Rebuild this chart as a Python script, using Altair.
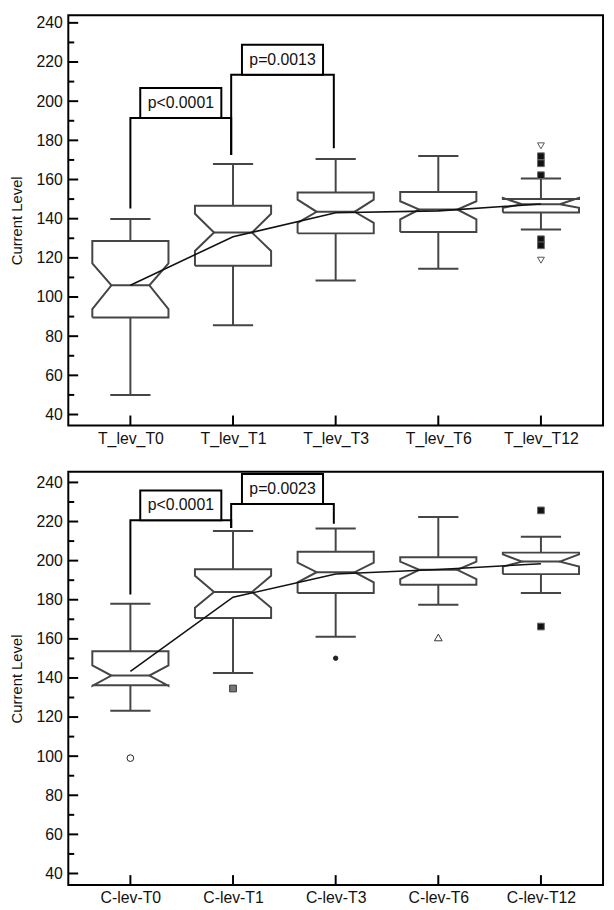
import altair as alt
import pandas as pd

FONT = "Liberation Sans"
BOX_COLOR = "#454545"

T_LABELS = ["T_lev_T0", "T_lev_T1", "T_lev_T3", "T_lev_T6", "T_lev_T12"]
C_LABELS = ["C-lev-T0", "C-lev-T1", "C-lev-T3", "C-lev-T6", "C-lev-T12"]

MAJOR_TICKS = [40, 60, 80, 100, 120, 140, 160, 180, 200, 220, 240]
MINOR_TICKS = [50, 70, 90, 110, 130, 150, 170, 190, 210, 230]

# ---- top panel (T_lev) box statistics ----
T_WHISK_LO = [50.0, 85.6, 108.4, 114.4, 134.5]
T_Q1 = [89.5, 116.0, 132.5, 133.2, 143.2]
T_NOTCH_LO = [93.8, 123.5, 137.9, 139.6, 145.6]
T_MEDIAN = [106.0, 132.9, 143.5, 144.7, 147.4]
T_NOTCH_HI = [117.2, 142.5, 149.7, 148.9, 150.6]
T_Q3 = [128.6, 146.6, 153.4, 153.6, 150.1]
T_WHISK_HI = [139.8, 167.9, 170.5, 172.0, 160.5]
T_MEAN = [106.0, 130.8, 143.0, 144.0, 147.5]
T_OUT_IDX = [4, 4, 4, 4, 4, 4, 4]
T_OUT_VAL = [177.2, 171.9, 168.3, 162.2, 129.5, 126.4, 118.8]
T_OUT_KIND = ["tri_down", "square", "square", "square", "square", "square", "tri_down"]
T_P_TEXT = ["p<0.0001", "p=0.0013"]
T_P_FROM = [0, 1]
T_P_TO = [1, 2]
T_P_LEVEL = [191.4, 213.5]
T_P_FOOT_L = [145.2, 172.5]
T_P_FOOT_R = [172.5, 175.9]

# ---- bottom panel (C-lev) box statistics ----
C_WHISK_LO = [123.2, 142.5, 161.1, 177.4, 183.5]
C_Q1 = [136.3, 170.7, 183.5, 187.7, 193.1]
C_NOTCH_LO = [136.0, 175.9, 188.9, 190.6, 197.0]
C_MEDIAN = [141.2, 184.0, 194.1, 195.3, 199.5]
C_NOTCH_HI = [146.4, 192.3, 199.0, 199.5, 203.2]
C_Q3 = [153.7, 195.6, 204.6, 201.7, 204.1]
C_WHISK_HI = [177.9, 215.2, 216.4, 222.3, 212.2]
C_MEAN = [143.4, 181.3, 193.2, 195.5, 198.4]
C_OUT_IDX = [0, 1, 2, 3, 4, 4]
C_OUT_VAL = [99.0, 134.6, 150.1, 160.7, 225.7, 166.3]
C_OUT_KIND = ["circle", "gray_square", "dot", "tri_up", "square", "square"]
C_P_TEXT = ["p<0.0001", "p=0.0023"]
C_P_FROM = [0, 1]
C_P_TO = [1, 2]
C_P_LEVEL = [220.6, 229.0]
C_P_FOOT_L = [182.7, 216.7]
C_P_FOOT_R = [216.7, 218.9]

# ---- style constants ----
HALF = 0.371      # box half width (x units)
NOTCH = 0.185     # half width at the median notch
CAP = 0.196       # whisker cap half width
LEG_DX = -0.018   # bracket leg offset for non-first categories
PBOX_HALF = 0.395
PBOX_H = 15.3
X_DOMAIN = [-0.605, 4.605]
WIDTH = 541

OUT_STYLE = {
    "tri_down": dict(shape="triangle-down", fill="white", stroke="#555555", size=48),
    "tri_up": dict(shape="triangle-up", fill="white", stroke="#333333", size=60),
    "square": dict(shape="square", fill="#111111", stroke="#666666", size=46),
    "gray_square": dict(shape="square", fill="#777777", stroke="#333333", size=46),
    "circle": dict(shape="circle", fill="white", stroke="#222222", size=46),
    "dot": dict(shape="circle", fill="#222222", stroke="#222222", size=20),
}


def panel(labels, wlo, q1, nlo, med, nhi, q3, whi, mean, out_idx, out_val, out_kind,
          p_text, p_from, p_to, p_level, p_foot_l, p_foot_r, ydom, height):
    xs = alt.Scale(domain=X_DOMAIN, nice=False, zero=False)
    ys = alt.Scale(domain=ydom, nice=False, zero=False)
    label_expr = "[" + ",".join("'%s'" % l for l in labels) + "][datum.value]"
    xaxis = alt.Axis(values=[0, 1, 2, 3, 4], labelExpr=label_expr, tickSize=0, domain=False,
                     grid=False, title=None, labelFontSize=16, labelFont=FONT,
                     labelColor="#111111", labelPadding=5, labelFlush=False,
                     labelOverlap=False)
    yaxis = alt.Axis(values=MAJOR_TICKS, tickSize=0, domain=False, grid=False,
                     title="Current Level", labelFontSize=16, labelFont=FONT,
                     labelColor="#111111", labelPadding=6, labelFlush=False,
                     labelOverlap=False, titleFont=FONT, titleFontSize=15,
                     titleFontWeight="normal", titleColor="#111111",
                     titleX=-52.8, titleY=height / 2, titleAngle=270,
                     titleBaseline="middle", titleAlign="center")

    def X(f):
        return alt.X(f, type="quantitative", scale=xs, axis=xaxis)

    def Y(f):
        return alt.Y(f, type="quantitative", scale=ys, axis=yaxis)

    # notched box outlines
    poly = []
    for i in range(5):
        L, R = i - HALF, i + HALF
        pts = [(L, q1[i]), (L, nlo[i]), (i - NOTCH, med[i]), (L, nhi[i]), (L, q3[i]),
               (R, q3[i]), (R, nhi[i]), (i + NOTCH, med[i]), (R, nlo[i]), (R, q1[i]),
               (L, q1[i])]
        for k, (px, py) in enumerate(pts):
            poly.append(dict(box=i, k=k, x=px, y=py))
    poly = pd.DataFrame(poly)

    stats = pd.DataFrame(dict(idx=list(range(5)), wlo=wlo, q1=q1, med=med, q3=q3,
                              whi=whi, mean=mean))
    stats["ml"] = stats["idx"] - NOTCH
    stats["mr"] = stats["idx"] + NOTCH
    stats["cl"] = stats["idx"] - CAP
    stats["cr"] = stats["idx"] + CAP

    base_stats = alt.Chart(stats)
    boxes = alt.Chart(poly).mark_line(color=BOX_COLOR, strokeWidth=2, strokeJoin="miter").encode(
        x=X("x"), y=Y("y"), detail="box:N", order="k:Q")
    medians = base_stats.mark_rule(color=BOX_COLOR, strokeWidth=2).encode(
        x=X("ml"), x2="mr", y=Y("med"))
    wh_up = base_stats.mark_rule(color=BOX_COLOR, strokeWidth=2).encode(
        x=X("idx"), y=Y("q3"), y2="whi")
    wh_lo = base_stats.mark_rule(color=BOX_COLOR, strokeWidth=2).encode(
        x=X("idx"), y=Y("wlo"), y2="q1")
    cap_up = base_stats.mark_rule(color=BOX_COLOR, strokeWidth=2).encode(
        x=X("cl"), x2="cr", y=Y("whi"))
    cap_lo = base_stats.mark_rule(color=BOX_COLOR, strokeWidth=2).encode(
        x=X("cl"), x2="cr", y=Y("wlo"))
    mean_line = base_stats.mark_line(color="#111111", strokeWidth=1.6).encode(
        x=X("idx"), y=Y("mean"))

    outs = []
    for i, v, kind in zip(out_idx, out_val, out_kind):
        st = OUT_STYLE[kind]
        outs.append(dict(idx=i, val=v, **st))
    outs = pd.DataFrame(outs)
    outliers = alt.Chart(outs).mark_point(opacity=1, strokeWidth=1).encode(
        x=X("idx"), y=Y("val"),
        shape=alt.Shape("shape:N", scale=None),
        fill=alt.Fill("fill:N", scale=None),
        stroke=alt.Stroke("stroke:N", scale=None),
        size=alt.Size("size:Q", scale=None))

    # significance brackets
    br = []
    boxes_p = []
    for b in range(len(p_text)):
        a, c = p_from[b], p_to[b]
        xa = a + (LEG_DX if a > 0 else 0.0)
        xc = c + (LEG_DX if c > 0 else 0.0)
        pts = [(xa, p_foot_l[b]), (xa, p_level[b]), (xc, p_level[b]), (xc, p_foot_r[b])]
        for k, (px, py) in enumerate(pts):
            br.append(dict(b=b, k=k, x=px, y=py))
        mid = (xa + xc) / 2
        boxes_p.append(dict(x1=mid - PBOX_HALF, x2=mid + PBOX_HALF, y1=p_level[b],
                            y2=p_level[b] + PBOX_H, xm=mid, ym=p_level[b] + PBOX_H / 2,
                            txt=p_text[b]))
    br = pd.DataFrame(br)
    boxes_p = pd.DataFrame(boxes_p)
    brackets = alt.Chart(br).mark_line(color="#000000", strokeWidth=2, strokeJoin="miter").encode(
        x=X("x"), y=Y("y"), detail="b:N", order="k:Q")
    prect = alt.Chart(boxes_p).mark_rect(fill="white", stroke="#000000", strokeWidth=2).encode(
        x=X("x1"), x2="x2", y=Y("y1"), y2="y2")
    ptext = alt.Chart(boxes_p).mark_text(font=FONT, fontSize=16, color="#111111",
                                         baseline="middle", align="center").encode(
        x=X("xm"), y=Y("ym"), text="txt:N")

    # inward ticks
    major = pd.DataFrame(dict(v=MAJOR_TICKS))
    minor = pd.DataFrame(dict(v=MINOR_TICKS))
    cats = pd.DataFrame(dict(idx=list(range(5))))
    yt_major = alt.Chart(major).mark_rule(color="#000000", strokeWidth=2).encode(
        y=Y("v"), x=alt.value(0), x2=alt.value(10))
    yt_minor = alt.Chart(minor).mark_rule(color="#000000", strokeWidth=2).encode(
        y=Y("v"), x=alt.value(0), x2=alt.value(6))
    xt = alt.Chart(cats).mark_rule(color="#000000", strokeWidth=2).encode(
        x=X("idx"), y=alt.value(height), y2=alt.value(height - 10))

    return alt.layer(yt_major, yt_minor, xt, boxes, medians, wh_up, wh_lo, cap_up, cap_lo,
                     mean_line, outliers, brackets, prect, ptext).properties(
        width=WIDTH, height=height)


top = panel(T_LABELS, T_WHISK_LO, T_Q1, T_NOTCH_LO, T_MEDIAN, T_NOTCH_HI, T_Q3, T_WHISK_HI,
            T_MEAN, T_OUT_IDX, T_OUT_VAL, T_OUT_KIND, T_P_TEXT, T_P_FROM, T_P_TO,
            T_P_LEVEL, T_P_FOOT_L, T_P_FOOT_R, [34.44, 243.9], 415)
bottom = panel(C_LABELS, C_WHISK_LO, C_Q1, C_NOTCH_LO, C_MEDIAN, C_NOTCH_HI, C_Q3, C_WHISK_HI,
               C_MEAN, C_OUT_IDX, C_OUT_VAL, C_OUT_KIND, C_P_TEXT, C_P_FROM, C_P_TO,
               C_P_LEVEL, C_P_FOOT_L, C_P_FOOT_R, [34.1, 245.4], 418)

chart = alt.vconcat(top, bottom, spacing=24).resolve_scale(
    x="independent", y="independent").configure_view(
    stroke="#000000", strokeWidth=2).properties(
    padding={"left": 0, "top": 0, "right": 2, "bottom": 0}, background="white")

chart.save("out.html", embed_options={"renderer": "svg", "actions": False})
